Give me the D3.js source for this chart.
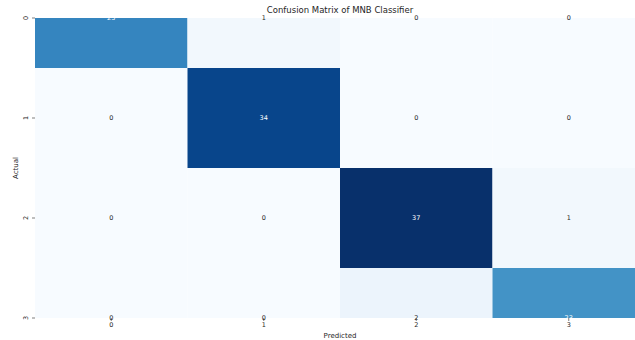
<!DOCTYPE html>
<html>
<head>
<meta charset="utf-8">
<script src="https://cdn.jsdelivr.net/npm/d3@7/dist/d3.min.js"></script>
<style>
  html, body { margin: 0; padding: 0; background: #ffffff; }
  svg { display: block; font-family: "DejaVu Sans", sans-serif; }
</style>
</head>
<body>
<svg id="chart" width="635" height="340"></svg>
<script>
// Class labels and confusion counts (rows = actual, columns = predicted)
const actualLabels = ["0", "1", "2", "3"];
const predictedLabels = ["0", "1", "2", "3"];
const row0 = [25, 1, 0, 0];
const row1 = [0, 34, 0, 0];
const row2 = [0, 0, 37, 1];
const row3 = [0, 0, 2, 23];
const matrix = [row0, row1, row2, row3];

const titleText = "Confusion Matrix of MNB Classifier";
const xTitle = "Predicted";
const yTitle = "Actual";

// matplotlib "Blues" anchor colours
const bluesStops = ["#f7fbff", "#deebf7", "#c6dbef", "#9ecae1", "#6baed6",
                    "#4292c6", "#2171b5", "#08519c", "#08306b"];

const svg = d3.select("#chart");

const plot = { left: 35, right: 645, top: 18, bottom: 318 };

const n = actualLabels.length;
const x = d3.scaleLinear().domain([0, n]).range([plot.left, plot.right]);
// visible rows run from 0.5 to n-0.5, so outer rows show only half
const y = d3.scaleLinear().domain([0.5, n - 0.5]).range([plot.top, plot.bottom]);

const flat = matrix.flat();
const vmin = d3.min(flat), vmax = d3.max(flat);
const color = d3.scaleLinear()
  .domain(bluesStops.map((_, k) => vmin + (vmax - vmin) * k / (bluesStops.length - 1)))
  .range(bluesStops)
  .interpolate(d3.interpolateRgb);

const cells = [];
matrix.forEach((row, i) => row.forEach((v, j) => cells.push({ i, j, v })));

svg.append("defs").append("clipPath").attr("id", "plotClip")
  .append("rect")
  .attr("x", plot.left).attr("y", plot.top)
  .attr("width", plot.right - plot.left).attr("height", plot.bottom - plot.top);

svg.append("g").attr("clip-path", "url(#plotClip)")
  .selectAll("rect").data(cells).enter().append("rect")
  .attr("x", d => x(d.j))
  .attr("y", d => y(d.i))
  .attr("width", d => x(d.j + 1) - x(d.j))
  .attr("height", d => y(d.i + 1) - y(d.i))
  .attr("fill", d => color(d.v));

// Cell annotations: light text on dark cells
function textColor(v) {
  const c = d3.rgb(color(v));
  const rl = 0.2126 * Math.pow(c.r / 255, 2.2) + 0.7152 * Math.pow(c.g / 255, 2.2) + 0.0722 * Math.pow(c.b / 255, 2.2);
  return rl < 0.408 ? "#ffffff" : "#262626";
}

svg.append("g").selectAll("text").data(cells).enter().append("text")
  .attr("x", d => x(d.j + 0.5))
  .attr("y", d => y(d.i + 0.5))
  .attr("text-anchor", "middle")
  .attr("dominant-baseline", "central")
  .attr("font-size", 6.5)
  .attr("fill", d => textColor(d.v))
  .text(d => d.v);

// X ticks
const xTicks = svg.append("g");
predictedLabels.forEach((lab, j) => {
  const px = x(j + 0.5);
  xTicks.append("line").attr("x1", px).attr("x2", px)
    .attr("y1", plot.bottom).attr("y2", plot.bottom + 3)
    .attr("stroke", "#262626").attr("stroke-width", 0.6);
  xTicks.append("text").attr("x", px).attr("y", plot.bottom + 9)
    .attr("text-anchor", "middle").attr("font-size", 6.5).attr("fill", "#262626")
    .text(lab);
});

// Y ticks (labels turned vertical)
const yTicks = svg.append("g");
actualLabels.forEach((lab, i) => {
  const py = y(i + 0.5);
  yTicks.append("line").attr("x1", plot.left - 3).attr("x2", plot.left)
    .attr("y1", py).attr("y2", py)
    .attr("stroke", "#262626").attr("stroke-width", 0.6);
  yTicks.append("text")
    .attr("transform", `translate(${plot.left - 7},${py}) rotate(-90)`)
    .attr("text-anchor", "middle").attr("font-size", 6.5).attr("fill", "#262626")
    .text(lab);
});

// Axis titles and chart title
svg.append("text").attr("x", (plot.left + plot.right) / 2).attr("y", 338)
  .attr("text-anchor", "middle").attr("font-size", 7).attr("fill", "#262626")
  .text(xTitle);

svg.append("text")
  .attr("transform", `translate(18,${(plot.top + plot.bottom) / 2}) rotate(-90)`)
  .attr("text-anchor", "middle").attr("font-size", 7).attr("fill", "#262626")
  .text(yTitle);

svg.append("text").attr("x", (plot.left + plot.right) / 2).attr("y", 13)
  .attr("text-anchor", "middle").attr("font-size", 8.5).attr("fill", "#262626")
  .text(titleText);
</script>
</body>
</html>
